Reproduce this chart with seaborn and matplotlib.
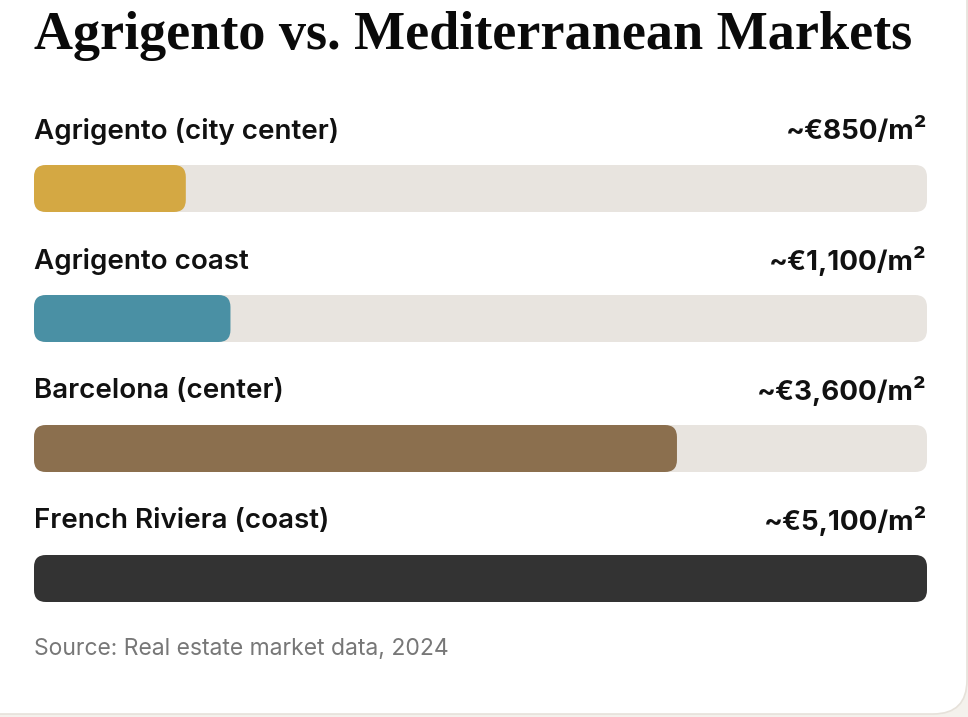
import pandas as pd
import matplotlib.pyplot as plt
import seaborn as sns
from matplotlib.patches import FancyBboxPatch
from matplotlib.transforms import blended_transform_factory

# --- data ---
markets = ["Agrigento (city center)", "Agrigento coast", "Barcelona (center)", "French Riviera (coast)"]
price_labels = ["~€850/m²", "~€1,100/m²", "~€3,600/m²", "~€5,100/m²"]
fill_pct = [17, 22, 72, 100]
bar_colors = ["#D4A843", "#4A90A4", "#8B6F4E", "#333333"]

df = pd.DataFrame({"market": markets, "fill": fill_pct, "track": [100] * len(markets)})

W, H = 968, 717
fig = plt.figure(figsize=(W / 100, H / 100), dpi=100)
fig.patch.set_facecolor("#F4F1EC")

# white card behind everything
card = FancyBboxPatch((-40 / W, 3 / H), (967 + 40) / W, 1.2, boxstyle="round,pad=0,rounding_size=0.035",
                      transform=fig.transFigure, facecolor="white", edgecolor="#E6E1DA", linewidth=1.2,
                      mutation_aspect=W / H, zorder=-10)
fig.patches.append(card)

sns.set_style("white")
ax = fig.add_axes([34 / W, 1 - 682.5 / H, 893 / W, 585 / H])
ax.set_facecolor("none")

bar_h = 47 / 130
sns.barplot(data=df, x="track", y="market", color="#E8E4DF", width=bar_h, ax=ax, orient="h",
            saturation=1)
sns.barplot(data=df, x="fill", y="market", hue="market", palette=bar_colors, width=bar_h,
            ax=ax, orient="h", legend=False, saturation=1)

ax.set_xlim(0, 100)
ax.set_ylim(3.8, -0.7)

# swap rectangles for rounded ones
px_x = 893 / 100  # pixels per x unit
px_y = 130        # pixels per y unit
radius = 12
for p in list(ax.patches):
    x0, y0, w, h = p.get_x(), p.get_y(), p.get_width(), p.get_height()
    fc = p.get_facecolor()
    p.remove()
    ax.add_patch(FancyBboxPatch((x0, y0), w, h,
                                boxstyle=f"round,pad=0,rounding_size={radius / px_x}",
                                mutation_aspect=px_x / px_y, facecolor=fc, edgecolor="none"))

trans = blended_transform_factory(ax.transAxes, ax.transData)
for i, (name, price) in enumerate(zip(markets, price_labels)):
    ax.text(0, i - 57 / 130, name, transform=trans, ha="left", va="center",
            fontsize=20, fontweight="semibold", family="Inter", color="#111111")
    ax.text(1, i - 57 / 130, price, transform=trans, ha="right", va="center",
            fontsize=20, fontweight="bold", family="Inter", color="#111111")

ax.set_xlabel("")
ax.set_ylabel("")
ax.set_xticks([])
ax.set_yticks([])
sns.despine(ax=ax, left=True, bottom=True)

fig.text(34 / W, 1 - 36 / H, "Agrigento vs. Mediterranean Markets", ha="left", va="center",
         fontsize=39, fontweight="bold", family="Liberation Serif", color="#0A0A0A")
fig.text(34 / W, 1 - 649 / H, "Source: Real estate market data, 2024", ha="left", va="center",
         fontsize=16.5, family="Inter", color="#777777")

fig.savefig("out.png", dpi=100)
